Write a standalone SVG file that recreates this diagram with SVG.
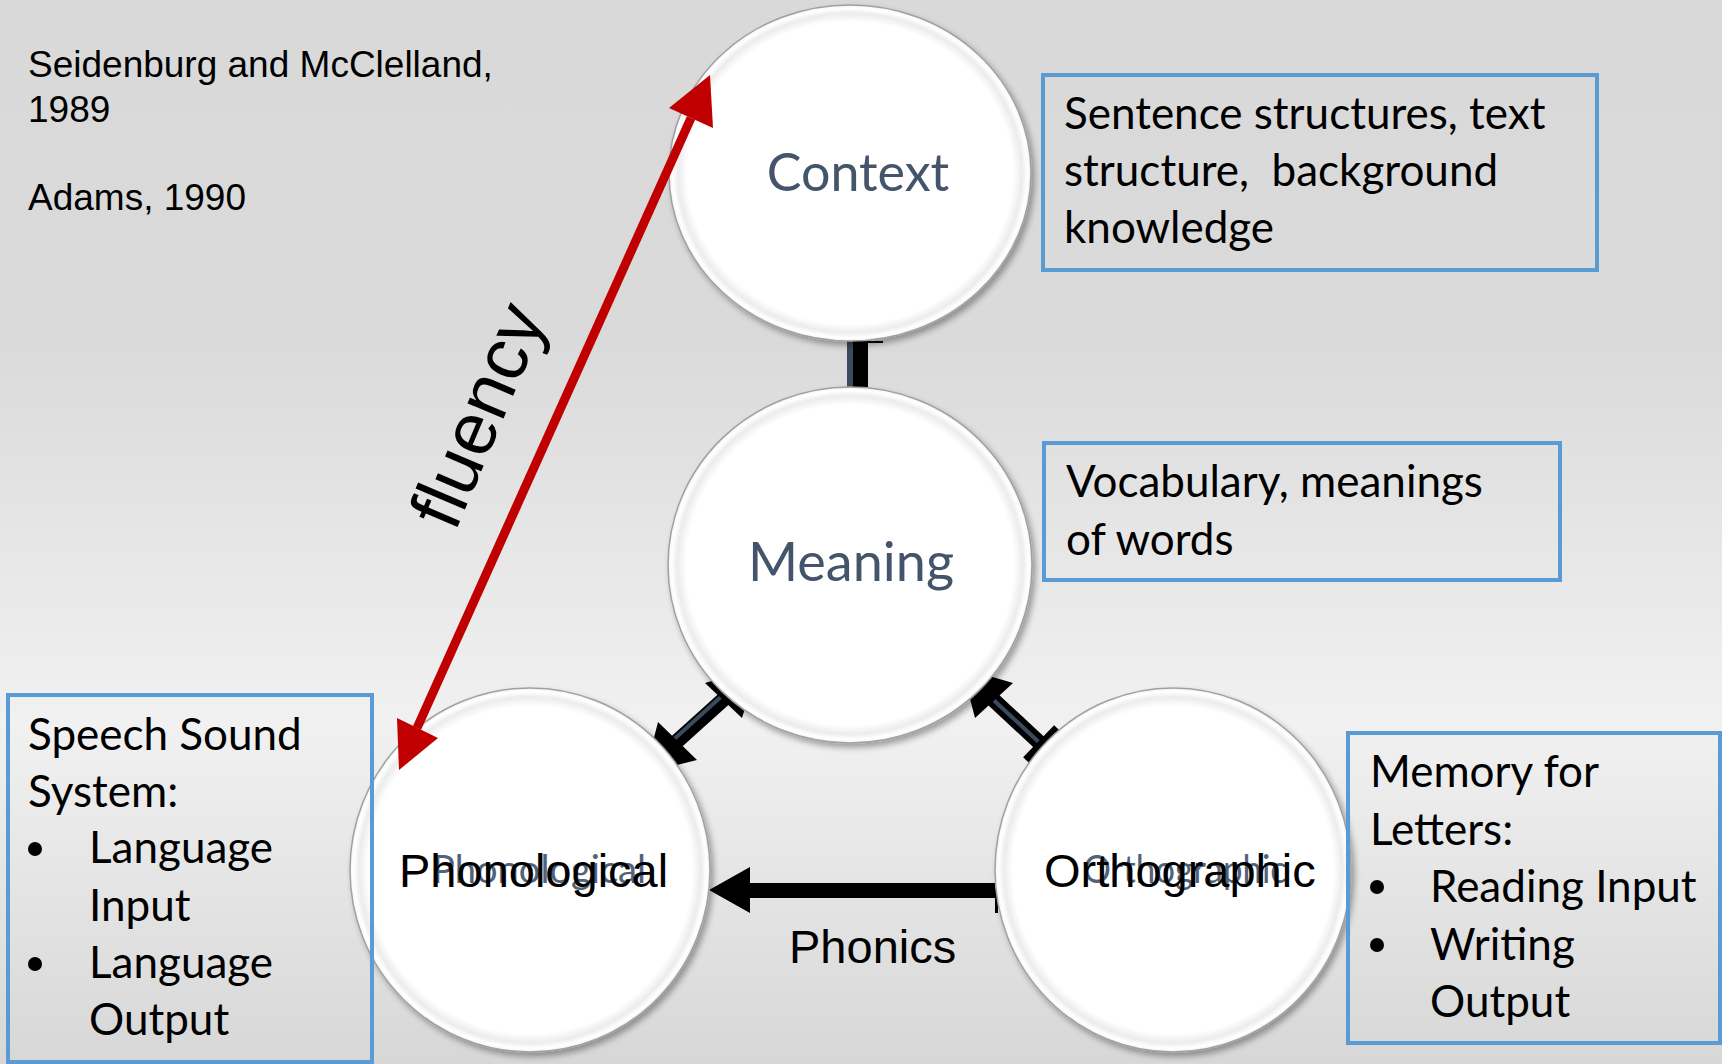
<svg xmlns="http://www.w3.org/2000/svg" width="1722" height="1064" viewBox="0 0 1722 1064">
<defs>
<linearGradient id="bg" x1="0" y1="0" x2="0" y2="1">
<stop offset="0" stop-color="#D9D9D9"/>
<stop offset="0.32" stop-color="#DADADA"/>
<stop offset="0.68" stop-color="#F1F1F1"/>
<stop offset="1" stop-color="#D7D7D7"/>
</linearGradient>
<radialGradient id="disc" cx="0.5" cy="0.5" r="0.5">
<stop offset="0" stop-color="#FFFFFF"/>
<stop offset="0.9" stop-color="#FFFFFF"/>
<stop offset="0.95" stop-color="#ECECEC"/>
<stop offset="0.98" stop-color="#FFFFFF"/>
<stop offset="1" stop-color="#F4F4F4"/>
</radialGradient>
<filter id="shadow" x="-10%" y="-10%" width="125%" height="125%">
<feGaussianBlur in="SourceAlpha" stdDeviation="3"/>
<feOffset dx="3" dy="4" result="b"/>
<feComponentTransfer><feFuncA type="linear" slope="0.35"/></feComponentTransfer>
<feMerge><feMergeNode/><feMergeNode in="SourceGraphic"/></feMerge>
</filter>
</defs>
<style>
.disc{fill:url(#disc);stroke:#A0A0A0;stroke-width:1.5;filter:url(#shadow)}
.box{fill:none;stroke:#5B9BD5;stroke-width:4}
.bt{font-family:Lato,"Open Sans",sans-serif;font-size:44px;fill:#000;white-space:pre}
.lab{font-family:Lato,"Open Sans",sans-serif;fill:#44546A}
.ghost{font-family:Lato,"Open Sans",sans-serif;font-size:39px;fill:#52627A}
.ar{font-family:"Liberation Sans",Arial,sans-serif;fill:#000}
.shaft{stroke:#000;stroke-width:15;fill:none}
.navy{stroke:#3B4A5E;stroke-width:4;fill:none}
.hd{fill:#000}
.red{fill:#C00000}
</style>
<rect x="0" y="0" width="1722" height="1064" fill="url(#bg)"/>

<g id="refs">
<text class="ar" font-size="37" x="28" y="77">Seidenburg and McClelland,</text>
<text class="ar" font-size="37" x="28" y="122">1989</text>
<text class="ar" font-size="37" x="28" y="210">Adams, 1990</text>
</g>

<g id="connectors">
<!-- Context - Meaning -->
<rect x="853" y="335" width="15" height="58" fill="#000"/>
<rect x="847" y="335" width="6" height="58" fill="#3B4A5E"/>
<rect x="868" y="341" width="15" height="2" fill="#000"/>
<!-- Meaning <-> Phonological -->
<line class="shaft" x1="735" y1="689" x2="664" y2="753"/>
<line class="navy" x1="733" y1="686" x2="662" y2="750"/>
<polygon class="hd" points="758,667 742,718 705,683"/>
<polygon class="hd" points="645,773 658,722 697,760"/>
<!-- Orthographic -> Meaning -->
<line class="shaft" x1="985" y1="692" x2="1042" y2="745"/>
<line class="navy" x1="985" y1="692" x2="1042" y2="745"/>
<polygon class="hd" points="962,668 975,718 1013,683"/>
<line x1="1026" y1="760" x2="1057" y2="728" stroke="#000" stroke-width="8"/>
<!-- Orthographic -> Phonological (Phonics) -->
<rect x="745" y="883" width="252" height="15" fill="#000"/>
<polygon class="hd" points="709,890 750,867 750,913"/>
<rect x="995" y="897" width="3" height="16" fill="#000"/>
</g>

<g id="context">
<ellipse class="disc" cx="850" cy="173" rx="181" ry="168"/>
<text class="lab" font-size="52" x="858" y="191" text-anchor="middle">Context</text>
</g>
<g id="meaning">
<ellipse class="disc" cx="850" cy="565" rx="182" ry="178"/>
<text class="lab" font-size="54" x="851" y="581" text-anchor="middle">Meaning</text>
</g>
<g id="phonological">
<ellipse class="disc" cx="530" cy="870" rx="180" ry="182"/>
<text class="ghost" x="432" y="883" textLength="214" lengthAdjust="spacingAndGlyphs">Phonological</text>
<text class="ar" font-size="47" x="399" y="887">Phonological</text>
</g>
<g id="orthographic">
<ellipse class="disc" cx="1173" cy="870" rx="178" ry="182"/>
<text class="ghost" x="1083" y="883" textLength="204" lengthAdjust="spacingAndGlyphs">Orthographic</text>
<text class="ar" font-size="47" x="1044" y="887">Orthographic</text>
</g>

<g id="phonics-label">
<text class="ar" font-size="47" x="789" y="963">Phonics</text>
</g>

<g id="fluency">
<line x1="691" y1="118" x2="417" y2="728" stroke="#C00000" stroke-width="9"/>
<polygon class="red" points="710,75 669,108 713,128"/>
<polygon class="red" points="399,770 397,718 438,738"/>
<text class="ar" font-size="74" transform="translate(455,533) rotate(-67)">fluency</text>
</g>

<g id="box-context">
<rect class="box" x="1043" y="75" width="554" height="195"/>
<text class="bt" x="1064" y="129">Sentence structures, text</text>
<text class="bt" x="1064" y="186" xml:space="preserve">structure,  background</text>
<text class="bt" x="1064" y="243">knowledge</text>
</g>
<g id="box-meaning">
<rect class="box" x="1044" y="443" width="516" height="137"/>
<text class="bt" x="1066" y="497">Vocabulary, meanings</text>
<text class="bt" x="1066" y="555">of words</text>
</g>
<g id="box-phonological">
<rect class="box" x="8" y="695" width="364" height="367"/>
<text class="bt" x="28" y="750">Speech Sound</text>
<text class="bt" x="28" y="807">System:</text>
<circle cx="35" cy="849" r="7"/>
<text class="bt" x="89" y="863">Language</text>
<text class="bt" x="89" y="921">Input</text>
<circle cx="35" cy="964" r="7"/>
<text class="bt" x="89" y="978">Language</text>
<text class="bt" x="89" y="1035">Output</text>
</g>
<g id="box-orthographic">
<rect class="box" x="1348" y="733" width="372" height="310"/>
<text class="bt" x="1370" y="787">Memory for</text>
<text class="bt" x="1370" y="845">Letters:</text>
<circle cx="1377" cy="887" r="7"/>
<text class="bt" x="1430" y="902">Reading Input</text>
<circle cx="1377" cy="945" r="7"/>
<text class="bt" x="1430" y="960">Writing</text>
<text class="bt" x="1430" y="1017">Output</text>
</g>
</svg>
